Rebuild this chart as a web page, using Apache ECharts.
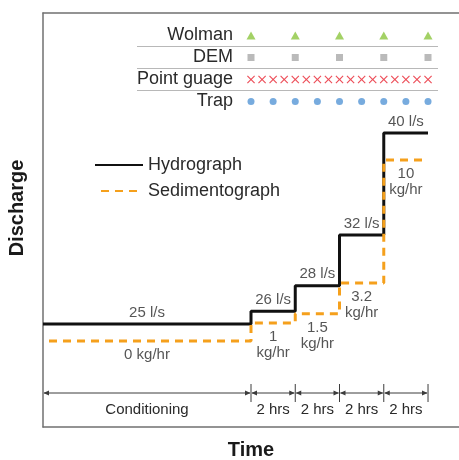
<!DOCTYPE html>
<html>
<head>
<meta charset="utf-8">
<script src="https://cdn.jsdelivr.net/npm/echarts@6/dist/echarts.min.js"></script>
<style>
  html, body { margin: 0; padding: 0; background: #fff; }
  #chart { width: 459px; height: 460px; }
</style>
</head>
<body>
<div id="chart"></div>
<script>
// Phase boundaries in hours (t = 0 is the end of the conditioning run)
const stepTimes = [-9.4, 0, 2, 4, 6, 8];
const phaseNames = ['Conditioning', '2 hrs', '2 hrs', '2 hrs', '2 hrs'];
// Water discharge held in each phase (l/s)
const discharge = [25, 26, 28, 32, 40];
// Sediment feed rate in each phase (kg/hr)
const sediment = [0, 1, 1.5, 3.2, 10];
// Measurement schedule (hours)
const measureRows = ['Wolman', 'DEM', 'Point guage', 'Trap'];
const wolmanTimes = [0, 2, 4, 6, 8];
const demTimes = [0, 2, 4, 6, 8];
const pointGaugeTimes = [0, 0.5, 1, 1.5, 2, 2.5, 3, 3.5, 4, 4.5, 5, 5.5, 6, 6.5, 7, 7.5, 8];
const trapTimes = [0, 1, 2, 3, 4, 5, 6, 7, 8];

// Layout constants
const FONT = '"Liberation Sans", Arial, Helvetica, sans-serif';
const TEXT = '#2a2a2a';
const FRAME = '#707070';
const W = 459;
const GRID_LEFT = 43, GRID_TOP = 13, GRID_BOTTOM = 33;
const X_MIN = -9.4, X_MAX = 9.4;
const PX_PER_HR = (W - GRID_LEFT) / (X_MAX - X_MIN);
const TABLE_LEFT = 137, TABLE_RIGHT = 21;
const DIM_Y = 393;

function stepPoints(levels) {
  const pts = levels.map((v, i) => [stepTimes[i], v]);
  pts.push([stepTimes[stepTimes.length - 1], levels[levels.length - 1]]);
  return pts;
}
function midPoints(levels) {
  return levels.map((v, i) => [(stepTimes[i] + stepTimes[i + 1]) / 2, v]);
}
function rowPoints(times, row) {
  return times.map(t => [t, row]);
}

const xCross = 'path://M1,0L5,4L9,0L10,1L6,5L10,9L9,10L5,6L1,10L0,9L4,5L0,1Z';

// Dimension arrows with a duration label under each phase
function renderPhase(params, api) {
  const i = params.dataIndex;
  const x0 = api.coord([api.value(0), 25])[0];
  const x1 = api.coord([api.value(1), 25])[0];
  const y = DIM_Y;
  const c = '#3c3c3c';
  return {
    type: 'group',
    children: [
      { type: 'line', shape: { x1: x0 + 1, y1: y, x2: x1 - 1, y2: y }, style: { stroke: c, lineWidth: 1 } },
      { type: 'polygon', shape: { points: [[x0 + 0.5, y], [x0 + 6, y - 2.5], [x0 + 6, y + 2.5]] }, style: { fill: c } },
      { type: 'polygon', shape: { points: [[x1 - 0.5, y], [x1 - 6, y - 2.5], [x1 - 6, y + 2.5]] }, style: { fill: c } },
      { type: 'line', shape: { x1: x1, y1: y - 9, x2: x1, y2: y + 9 }, style: { stroke: c, lineWidth: 1 } },
      { type: 'text', style: { x: (x0 + x1) / 2, y: y + 17, text: phaseNames[i], align: 'center', verticalAlign: 'middle', fontSize: 15, fontFamily: FONT, fill: TEXT } }
    ]
  };
}

const frameLine = { show: true, onZero: false, lineStyle: { color: FRAME, width: 1.5 } };
const chart = echarts.init(document.getElementById('chart'), null, { renderer: 'canvas' });
chart.setOption({
  animation: false,
  backgroundColor: '#fff',
  textStyle: { fontFamily: FONT },
  grid: [
    { left: GRID_LEFT, right: 0, top: GRID_TOP, bottom: GRID_BOTTOM },
    { left: TABLE_LEFT, right: TABLE_RIGHT, top: 24.5, height: 88 }
  ],
  xAxis: [
    { type: 'value', gridIndex: 0, position: 'bottom', min: X_MIN, max: X_MAX, axisLine: frameLine, axisTick: { show: false }, axisLabel: { show: false }, splitLine: { show: false } },
    { type: 'value', gridIndex: 0, position: 'top', min: X_MIN, max: X_MAX, axisLine: frameLine, axisTick: { show: false }, axisLabel: { show: false }, splitLine: { show: false } },
    { type: 'value', gridIndex: 1,
      min: X_MIN + (TABLE_LEFT - GRID_LEFT) / PX_PER_HR,
      max: X_MIN + (W - TABLE_RIGHT - GRID_LEFT) / PX_PER_HR,
      show: false }
  ],
  yAxis: [
    { type: 'value', gridIndex: 0, position: 'left', min: 16.91, max: 49.43, axisLine: frameLine, axisTick: { show: false }, axisLabel: { show: false }, splitLine: { show: false } },
    { type: 'value', gridIndex: 0, position: 'right', min: -4.75, max: 18.12, show: false },
    { type: 'category', gridIndex: 1, data: measureRows, inverse: true, boundaryGap: true, offset: -104,
      axisLine: { show: false }, axisTick: { show: false },
      axisLabel: { interval: 0, fontSize: 18, color: TEXT, fontFamily: FONT, margin: 8 },
      splitLine: { show: true, interval: 0, showMinLine: false, showMaxLine: false, lineStyle: { color: '#b8b8b8', width: 1 } } }
  ],
  legend: {
    data: ['Hydrograph', 'Sedimentograph'],
    orient: 'vertical', left: 94, top: 156, padding: 0,
    itemWidth: 48, itemHeight: 14, itemGap: 8,
    itemStyle: { opacity: 0 },
    textStyle: { fontSize: 18, color: TEXT, fontFamily: FONT },
    selectedMode: false
  },
  graphic: [
    { type: 'text', x: 17, y: 208, rotation: Math.PI / 2, style: { text: 'Discharge', align: 'center', verticalAlign: 'middle', font: 'bold 20px ' + FONT, fill: '#1a1a1a' } },
    { type: 'text', x: 251, y: 450, style: { text: 'Time', align: 'center', verticalAlign: 'middle', font: 'bold 20px ' + FONT, fill: '#1a1a1a' } }
  ],
  series: [
    { name: 'Hydrograph', type: 'line', xAxisIndex: 0, yAxisIndex: 0, step: 'end', symbol: 'none', z: 3,
      data: stepPoints(discharge), lineStyle: { color: '#111', width: 3 }, itemStyle: { color: '#111' } },
    { name: 'Sedimentograph', type: 'line', xAxisIndex: 0, yAxisIndex: 1, step: 'end', symbol: 'none', z: 4,
      data: stepPoints(sediment), lineStyle: { color: '#f5a01c', width: 3, type: [8, 6], dashOffset: 8 }, itemStyle: { color: '#f5a01c' } },
    { name: 'discharge-labels', type: 'scatter', xAxisIndex: 0, yAxisIndex: 0, symbolSize: 0, silent: true, z: 5,
      data: midPoints(discharge),
      label: { show: true, position: 'top', distance: 4, fontSize: 15, color: TEXT, fontFamily: FONT, formatter: p => p.value[1] + ' l/s' } },
    { name: 'sediment-labels', type: 'scatter', xAxisIndex: 0, yAxisIndex: 1, symbolSize: 0, silent: true, z: 5,
      data: midPoints(sediment),
      label: { show: true, position: 'bottom', distance: 6, fontSize: 15, lineHeight: 16, color: TEXT, fontFamily: FONT,
        formatter: p => p.dataIndex === 0 ? p.value[1] + ' kg/hr' : p.value[1] + '\nkg/hr' } },
    { name: 'phases', type: 'custom', xAxisIndex: 0, yAxisIndex: 0, silent: true, clip: false,
      data: stepTimes.slice(0, -1).map((t, i) => [t, stepTimes[i + 1]]),
      encode: { x: [0, 1], y: 0 },
      renderItem: renderPhase },
    { name: 'Wolman', type: 'scatter', xAxisIndex: 2, yAxisIndex: 2, symbol: 'triangle', symbolSize: [9, 8],
      itemStyle: { color: '#8cc63f' }, data: rowPoints(wolmanTimes, 'Wolman') },
    { name: 'DEM', type: 'scatter', xAxisIndex: 2, yAxisIndex: 2, symbol: 'rect', symbolSize: 7,
      itemStyle: { color: '#a9a9a9' }, data: rowPoints(demTimes, 'DEM') },
    { name: 'Point guage', type: 'scatter', xAxisIndex: 2, yAxisIndex: 2, symbol: xCross, symbolSize: 8,
      itemStyle: { color: '#e8202e' }, data: rowPoints(pointGaugeTimes, 'Point guage') },
    { name: 'Trap', type: 'scatter', xAxisIndex: 2, yAxisIndex: 2, symbol: 'circle', symbolSize: 7,
      itemStyle: { color: '#5596d6' }, data: rowPoints(trapTimes, 'Trap') }
  ]
});
</script>
</body>
</html>
